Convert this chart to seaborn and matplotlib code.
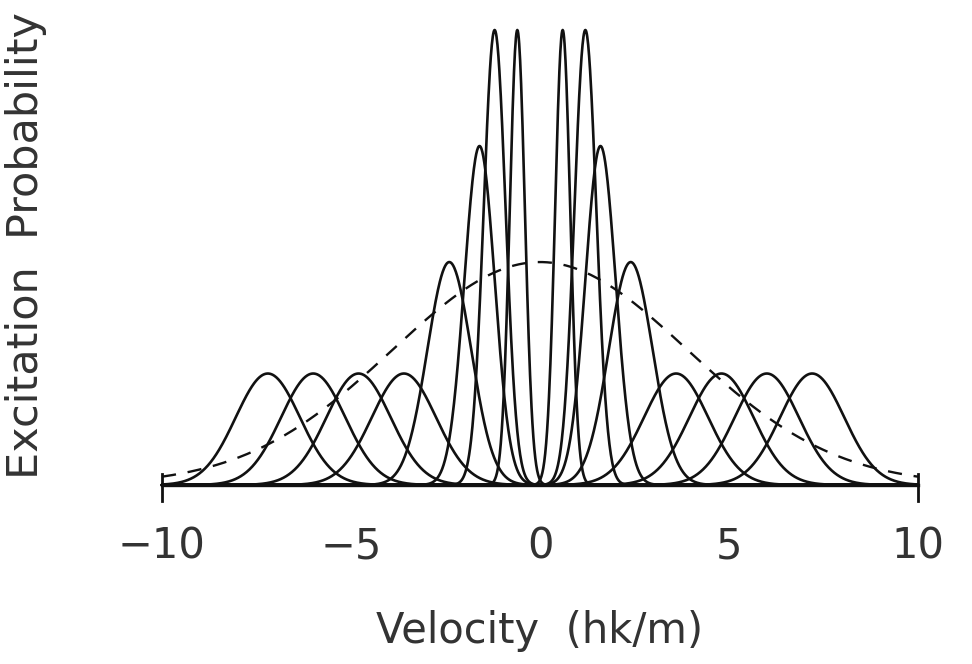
import numpy as np
import pandas as pd
import seaborn as sns
import matplotlib.pyplot as plt

# peaks: centre, height, width (gaussian sigma)
peak_centers = [-7.2, -6.0, -4.8, -3.6, -2.4, -1.6, -1.2, -0.6,
                0.6, 1.2, 1.6, 2.4, 3.6, 4.8, 6.0, 7.2]
peak_heights = [0.245, 0.245, 0.245, 0.245, 0.49, 0.745, 1.0, 1.0,
                1.0, 1.0, 0.745, 0.49, 0.245, 0.245, 0.245, 0.245]
peak_widths = [0.85, 0.85, 0.85, 0.85, 0.58, 0.4, 0.29, 0.2,
               0.2, 0.29, 0.4, 0.58, 0.85, 0.85, 0.85, 0.85]

# broad dashed envelope
envelope_height = 0.49
envelope_width = 3.9

x_ticks = [-10, -5, 0, 5, 10]

v = np.linspace(-10, 10, 1601)
rows = []
for i, (c, h, w) in enumerate(zip(peak_centers, peak_heights, peak_widths)):
    p = h * np.exp(-0.5 * ((v - c) / w) ** 2)
    rows.append(pd.DataFrame({"v": v, "p": p, "peak": i}))
df = pd.concat(rows, ignore_index=True)
env = pd.DataFrame({"v": v, "p": envelope_height * np.exp(-0.5 * (v / envelope_width) ** 2)})

sns.set_theme(style="white")
plt.rcParams["font.family"] = ["DejaVu Sans"]

fig = plt.figure(figsize=(9.72, 6.64), dpi=100)
ax = fig.add_axes([162 / 972, (664 - 485) / 664, (918 - 162) / 972, (485 - 30) / 664])

sns.lineplot(data=df, x="v", y="p", units="peak", estimator=None,
             color="#111111", linewidth=1.9, ax=ax, legend=False)
sns.lineplot(data=env, x="v", y="p", color="#111111", linewidth=1.7,
             linestyle=(0, (6, 5)), ax=ax, legend=False)
for line in ax.get_lines():
    line.set_clip_on(False)

ax.set_xlim(-10, 10)
ax.set_ylim(0, 1.0)
ax.set_xticks(x_ticks)
ax.set_xticklabels([str(t).replace("-", "\u2212") for t in x_ticks])
ax.set_yticks([])
ax.tick_params(axis="x", direction="out", length=11, width=2, colors="#111111",
               labelsize=30, pad=18, labelcolor="#333333")

ax.spines["top"].set_visible(False)
ax.spines["bottom"].set_linewidth(2.4)
ax.spines["bottom"].set_color("#111111")
for s in ["left", "right"]:
    ax.spines[s].set_bounds(-0.035, 0.025)
    ax.spines[s].set_linewidth(2)
    ax.spines[s].set_color("#111111")

ax.set_xlabel("Velocity  (hk/m)", fontsize=30, color="#333333")
ax.xaxis.set_label_coords(0.5, -0.275)
ax.set_ylabel("Excitation  Probability", fontsize=31, color="#333333")
ax.yaxis.set_label_coords(-0.152, 0.527)

fig.savefig("out.png", dpi=100, facecolor="white")
